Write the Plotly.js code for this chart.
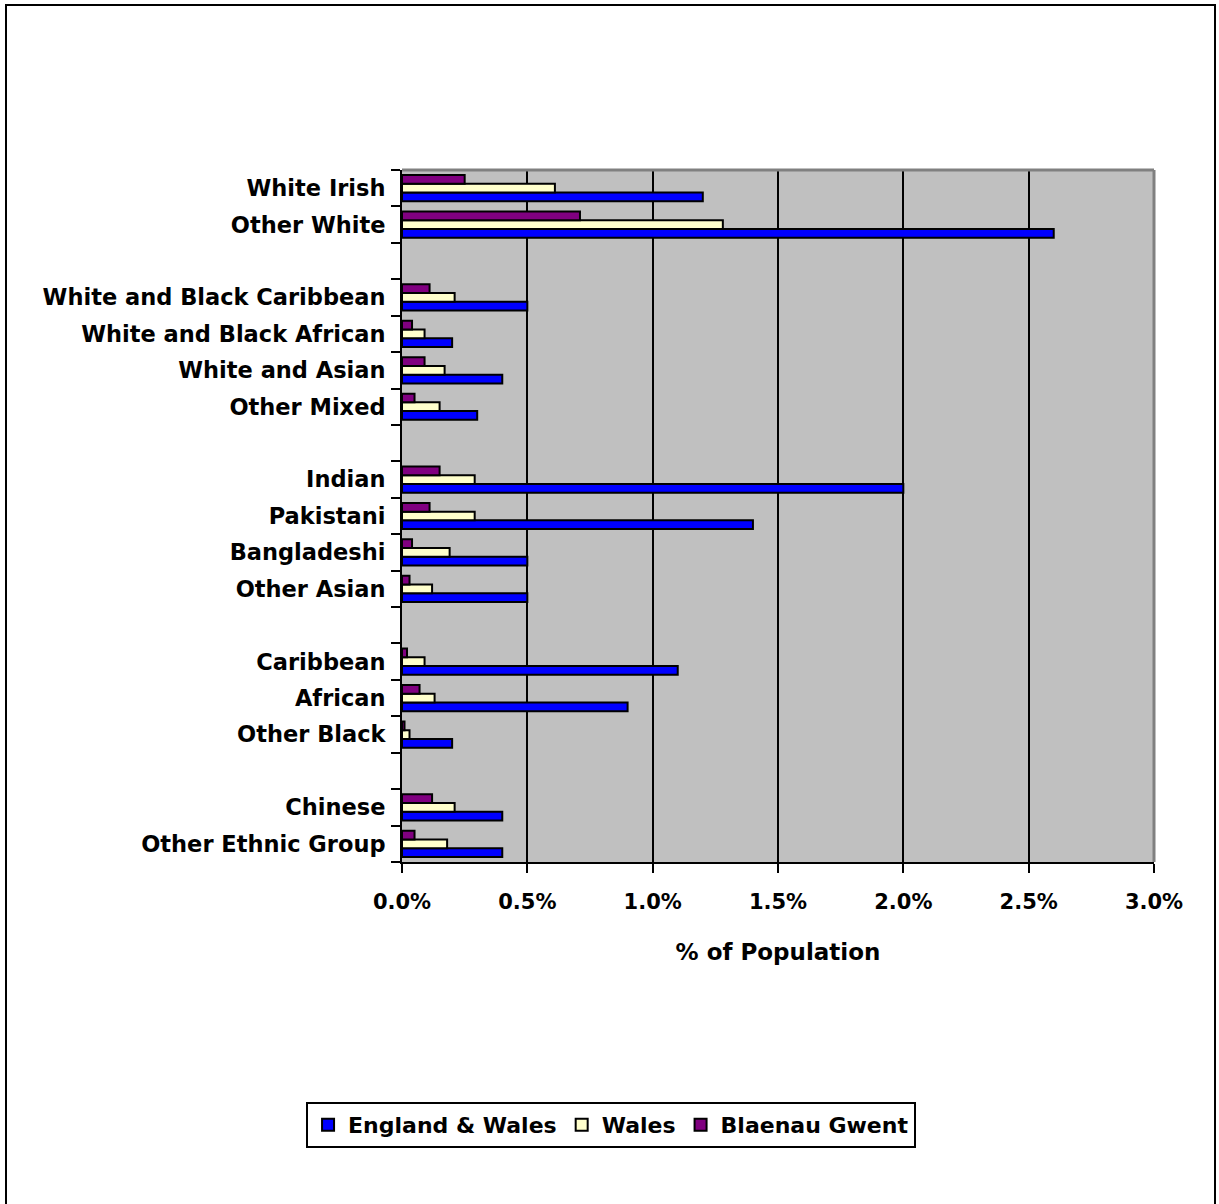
<!DOCTYPE html>
<html>
<head>
<meta charset="utf-8">
<script src="https://cdn.plot.ly/plotly-3.0.1.min.js"></script>
<style>
  html, body { margin: 0; padding: 0; background: #ffffff; }
  #chart { width: 1219px; height: 1204px; position: relative; }
  #frame { position: absolute; left: 5px; top: 4px; width: 1211px; height: 1220px; border: 2px solid #000; pointer-events: none; box-sizing: border-box; }
</style>
</head>
<body>
<div id="chart"></div>
<div id="frame"></div>
<script>
// Categories, top to bottom (blank entries are spacer rows)
const categories = [
  "White Irish", "Other White", " ",
  "White and Black Caribbean", "White and Black African", "White and Asian", "Other Mixed", "  ",
  "Indian", "Pakistani", "Bangladeshi", "Other Asian", "   ",
  "Caribbean", "African", "Other Black", "    ",
  "Chinese", "Other Ethnic Group"
];
// % of population
const englandWales = [1.2, 2.6, null, 0.5, 0.2, 0.4, 0.3, null, 2.0, 1.4, 0.5, 0.5, null, 1.1, 0.9, 0.2, null, 0.4, 0.4];
const wales        = [0.61, 1.28, null, 0.21, 0.09, 0.17, 0.15, null, 0.29, 0.29, 0.19, 0.12, null, 0.09, 0.13, 0.03, null, 0.21, 0.18];
const blaenauGwent = [0.25, 0.71, null, 0.11, 0.04, 0.09, 0.05, null, 0.15, 0.11, 0.04, 0.03, null, 0.02, 0.07, 0.01, null, 0.12, 0.05];
const seriesNames = ["England & Wales", "Wales", "Blaenau Gwent"];
const xTicks = [0, 0.5, 1.0, 1.5, 2.0, 2.5, 3.0];

const FONT = "DejaVu Sans, Verdana, sans-serif";
const colors = ["#0000FF", "#FFFFCC", "#800080"];
const seriesData = [englandWales, wales, blaenauGwent];

const traces = seriesData.map((vals, i) => ({
  type: "bar",
  orientation: "h",
  name: seriesNames[i],
  y: categories,
  x: vals,
  marker: { color: colors[i], line: { color: "#000000", width: 2 } },
  hoverinfo: "x+y+name"
}));

const layout = {
  width: 1219,
  height: 1204,
  paper_bgcolor: "#ffffff",
  plot_bgcolor: "#C0C0C0",
  margin: { l: 402, r: 65, t: 170, b: 342, pad: 0 },
  barmode: "group",
  bargap: 0.28,
  bargroupgap: 0,
  font: { family: FONT, size: 22.5, color: "#000000", weight: "bold" },
  showlegend: true,
  legend: {
    orientation: "h",
    x: 0.278, xanchor: "center",
    y: -0.38, yanchor: "middle",
    bordercolor: "#000000", borderwidth: 2,
    bgcolor: "#ffffff",
    traceorder: "normal",
    font: { family: FONT, size: 22, color: "#000000", weight: "bold" },
    itemwidth: 30,
    tracegroupgap: 0
  },
  xaxis: {
    range: [0, 3],
    tickvals: xTicks,
    ticktext: xTicks.map(v => v.toFixed(1) + "%"),
    showgrid: true,
    gridcolor: "#000000",
    gridwidth: 2,
    zeroline: false,
    showline: true,
    linecolor: "#000000",
    linewidth: 2,
    ticks: "outside",
    ticklen: 9,
    tickwidth: 2,
    tickcolor: "#000000",
    ticklabelstandoff: 11,
    tickfont: { family: FONT, size: 21, color: "#000000", weight: "bold" },
    title: { text: "% of Population", standoff: 31, font: { family: FONT, size: 23, color: "#000000", weight: "bold" } },
    fixedrange: true
  },
  yaxis: {
    type: "category",
    categoryorder: "array",
    categoryarray: categories.slice().reverse(),
    showgrid: false,
    zeroline: false,
    showline: true,
    linecolor: "#000000",
    linewidth: 2,
    ticks: "outside",
    tickson: "boundaries",
    ticklen: 9,
    tickwidth: 2,
    tickcolor: "#000000",
    ticklabelstandoff: 10,
    tickfont: { family: FONT, size: 22.5, color: "#000000", weight: "bold" },
    fixedrange: true
  },
  shapes: [
    { type: "line", xref: "paper", yref: "paper", x0: 0, x1: 1, y0: 1, y1: 1, line: { color: "#808080", width: 3 } },
    { type: "line", xref: "paper", yref: "paper", x0: 1, x1: 1, y0: 0, y1: 1, line: { color: "#808080", width: 3 } }
  ]
};

Plotly.newPlot("chart", traces, layout, { displayModeBar: false, staticPlot: true });
</script>
</body>
</html>
